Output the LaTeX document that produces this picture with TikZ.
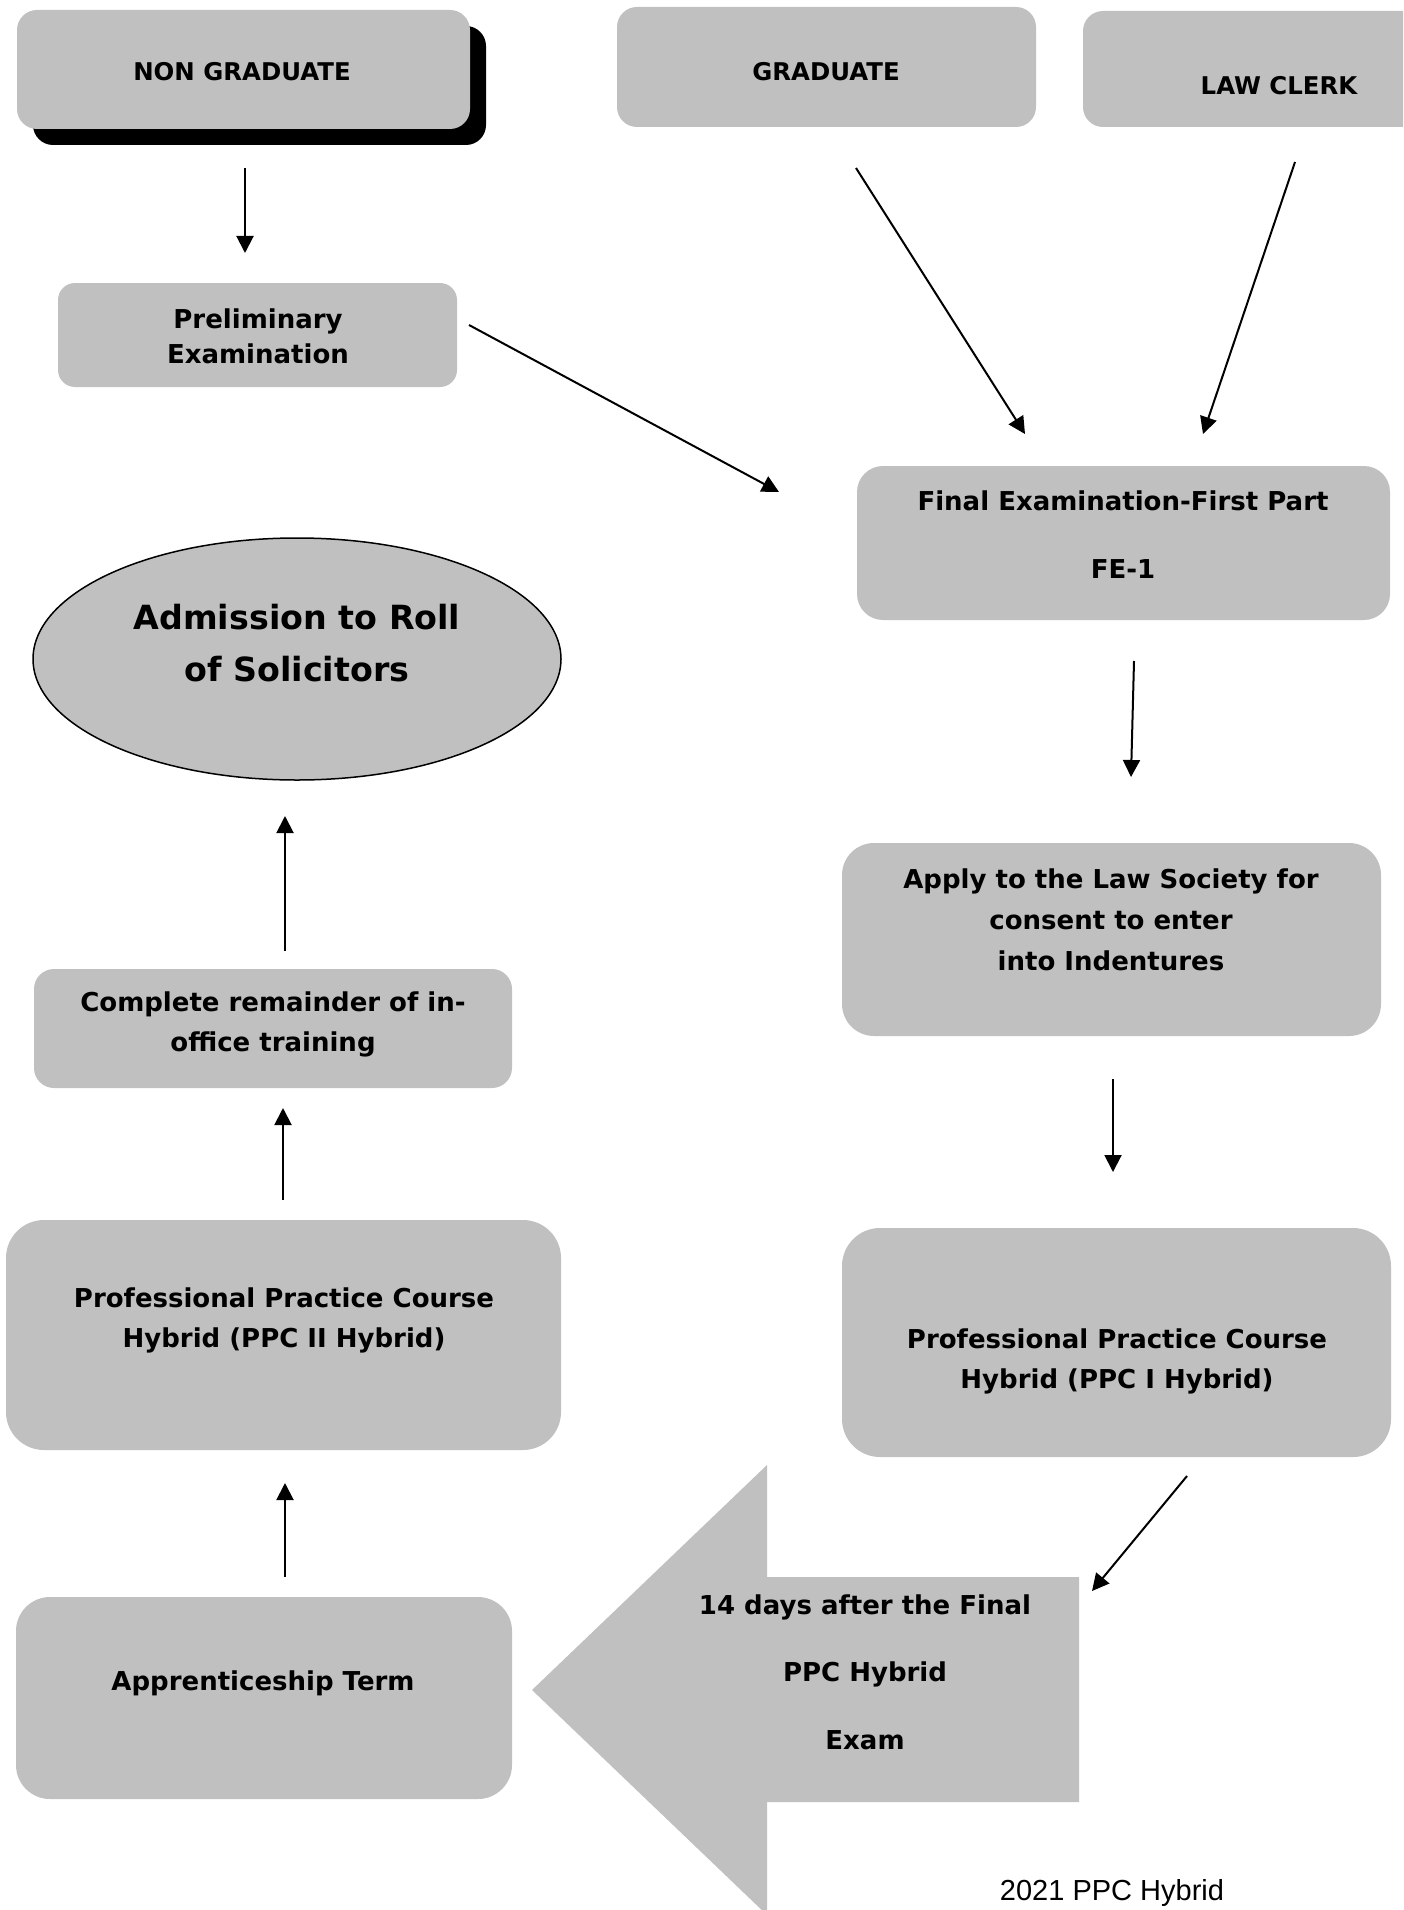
\documentclass[tikz,border=0pt]{standalone}
\usepackage{fontspec}
\setmainfont{DejaVu Sans}
\newfontfamily\footfont{Liberation Sans}
\usetikzlibrary{arrows.meta,shapes.geometric}
\definecolor{boxgray}{HTML}{C0C0C0}
\begin{document}
\begin{tikzpicture}[x=1pt,y=-1pt,
  box/.style={fill=boxgray, draw=none, inner sep=0pt, rectangle},
  txt/.style={font=\bfseries\fontsize{26}{40}\selectfont, align=center, inner sep=0pt},
  toptxt/.style={font=\bfseries\fontsize{24.4}{30}\selectfont, align=center, inner sep=0pt},
  conn/.style={line width=2pt, -{Triangle[length=17pt,width=17pt]}}]
\useasboundingbox (0,0) rectangle (1403,1910);
\clip (0,0) rectangle (1403,1910);
% top row
\node[box, fill=black, rounded corners=20pt, minimum width=453pt, minimum height=119pt] (ngs) at (259.5,85.5) {};
\node[box, rounded corners=20pt, minimum width=453pt, minimum height=119pt] (ng) at (243.5,69.5) {};
\node[toptxt] (ngt) at (242,72) {NON GRADUATE};
\node[box, rounded corners=20pt, minimum width=419pt, minimum height=120pt] (gr) at (826.5,67) {};
\node[toptxt] (grt) at (826,72) {GRADUATE};
\node[box, rounded corners=20pt, minimum width=392pt, minimum height=116pt] (lc) at (1279,69) {};
\node[toptxt] (lct) at (1279,86) {LAW CLERK};
% preliminary
\node[box, rounded corners=17pt, minimum width=399pt, minimum height=104pt] (pe) at (257.5,335) {};
\node[txt, font=\bfseries\fontsize{26}{35}\selectfont] (pet) at (258,336) {Preliminary\\Examination};
% FE-1
\node[box, rounded corners=26pt, minimum width=533pt, minimum height=154pt] (fe) at (1123.5,543) {};
\node[txt, font=\bfseries\fontsize{26}{68}\selectfont] (fet) at (1123,535) {Final Examination-First Part\\FE-1};
% admission ellipse
\node[ellipse, fill=boxgray, draw=black, line width=1.5pt, minimum width=528pt, minimum height=242pt, inner sep=0pt] (adm) at (297,659) {};
\node[txt, font=\bfseries\fontsize{33.3}{52}\selectfont] (admt) at (297,643) {Admission to Roll\\of Solicitors};
% apply
\node[box, rounded corners=32pt, minimum width=539pt, minimum height=193pt] (ap) at (1111.5,939.5) {};
\node[txt, font=\bfseries\fontsize{26}{41}\selectfont] (apt) at (1111,920) {Apply to the Law Society for\\consent to enter\\into Indentures};
% complete remainder
\node[box, rounded corners=20pt, minimum width=478pt, minimum height=119pt] (cr) at (273,1028.5) {};
\node[txt] (crt) at (273,1024) {Complete remainder of in-\\office training};
% PPC II
\node[box, rounded corners=38pt, minimum width=555pt, minimum height=230pt] (p2) at (283.5,1335) {};
\node[txt] (p2t) at (284,1320) {Professional Practice Course\\Hybrid (PPC II Hybrid)};
% PPC I
\node[box, rounded corners=38pt, minimum width=549pt, minimum height=229pt] (p1) at (1116.5,1342.5) {};
\node[txt] (p1t) at (1117,1361) {Professional Practice Course\\Hybrid (PPC I Hybrid)};
% apprenticeship
\node[box, rounded corners=34pt, minimum width=496pt, minimum height=202pt] (at) at (264,1698) {};
\node[txt] (att) at (263,1683) {Apprenticeship Term};
% big block arrow
\fill[boxgray] (532,1690) -- (767,1465) -- (767,1577) -- (1079,1577) -- (1079,1802) -- (767,1802) -- (767,1915) -- cycle;
\node[txt, font=\bfseries\fontsize{26}{67.5}\selectfont] (bigt) at (865,1672) {14 days after the Final\\PPC Hybrid\\Exam};
% footer
\node[inner sep=0pt, font=\footfont\fontsize{29}{34}\selectfont] (foot) at (1112,1893) {2021 PPC Hybrid};
% connectors
\coordinate (c1s) at (245,168); \coordinate (c1e) at (245,253);
\coordinate (c2s) at (469,325); \coordinate (c2e) at (779,492);
\coordinate (c3s) at (856,168); \coordinate (c3e) at (1025,434);
\coordinate (c4s) at (1295,162); \coordinate (c4e) at (1203,434);
\coordinate (c5s) at (1134,661); \coordinate (c5e) at (1131,777);
\coordinate (c6s) at (1113,1079); \coordinate (c6e) at (1113,1172);
\coordinate (c7s) at (1187,1476); \coordinate (c7e) at (1092,1591);
\coordinate (c8s) at (285,1577); \coordinate (c8e) at (285,1483);
\coordinate (c9s) at (283,1200); \coordinate (c9e) at (283,1108);
\coordinate (c10s) at (285,951); \coordinate (c10e) at (285,816);
\draw[conn] (c1s) -- (c1e);
\draw[conn] (c2s) -- (c2e);
\draw[conn] (c3s) -- (c3e);
\draw[conn] (c4s) -- (c4e);
\draw[conn] (c5s) -- (c5e);
\draw[conn] (c6s) -- (c6e);
\draw[conn] (c7s) -- (c7e);
\draw[conn] (c8s) -- (c8e);
\draw[conn] (c9s) -- (c9e);
\draw[conn] (c10s) -- (c10e);
\end{tikzpicture}
\end{document}
